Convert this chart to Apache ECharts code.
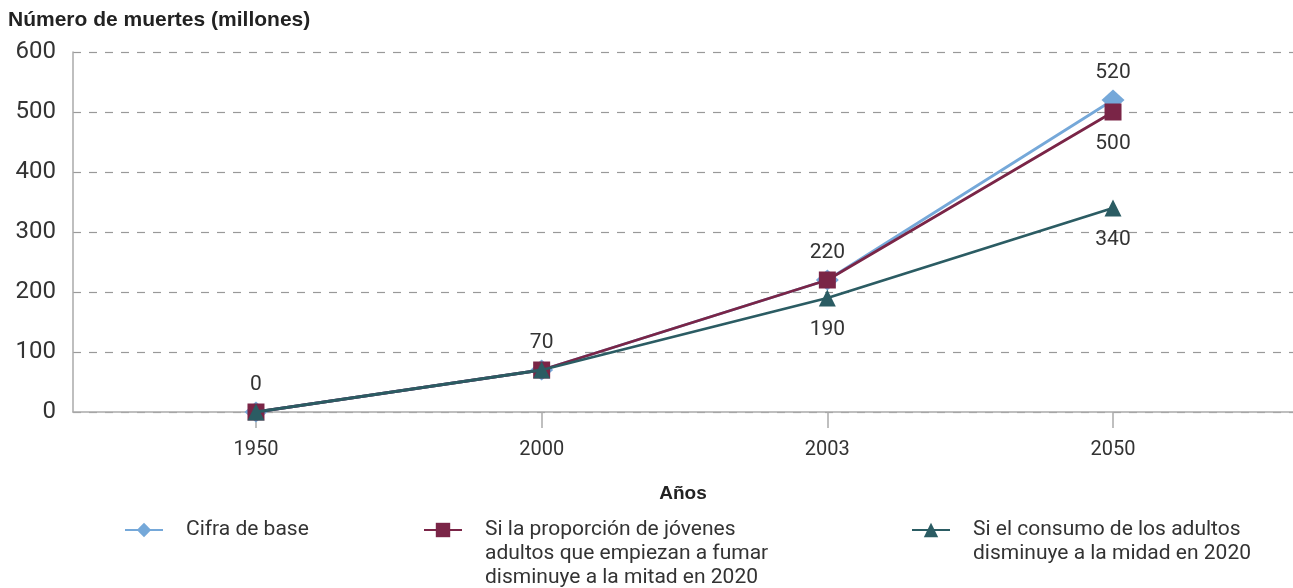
<!DOCTYPE html>
<html>
<head>
<meta charset="utf-8">
<script src="https://cdn.jsdelivr.net/npm/echarts@6/dist/echarts.min.js"></script>
<style>
  html, body { margin: 0; padding: 0; background: #fff; }
  #chart { width: 1293px; height: 588px; }
</style>
</head>
<body>
<div id="chart"></div>
<script>
var years = ['1950', '2000', '2003', '2050'];
var baseValues = [0, 70, 220, 520];
var youthValues = [0, 70, 220, 500];
var adultValues = [0, 70, 190, 340];

var nameBase = 'Cifra de base';
var nameYouth = 'Si la proporción de jóvenes\nadultos que empiezan a fumar\ndisminuye a la mitad en 2020';
var nameAdult = 'Si el consumo de los adultos\ndisminuye a la midad en 2020';

var FONT = 'Roboto, "Liberation Sans", sans-serif';
var BOLD = '"Liberation Sans", Arial, sans-serif';
var TXT = '#333';

function pairs(values) {
  return values.map(function (v, i) { return [i, v]; });
}

// labels: base on top everywhere, others below only where they split off
function youthData() {
  return youthValues.map(function (v, i) {
    return { value: [i, v], label: { show: v !== baseValues[i] } };
  });
}
function adultData() {
  return adultValues.map(function (v, i) {
    return { value: [i, v], label: { show: v !== youthValues[i] } };
  });
}

var labelBelow = {
  position: 'bottom', distance: 13, fontSize: 21, color: TXT, fontFamily: FONT
};

// legend text is centred on the icon, so pad with empty lines on top
// to bring the first line level with the marker
function legendFor(name, left) {
  var lh = 24, ih = 18;
  var lines = name.split('\n').length;
  var pad = new Array(lines).join('\n');
  var boxTop = ih / 2 - ((2 * lines - 1) * lh) / 2;
  return {
    left: left,
    top: 527 - ih / 2 + Math.min(0, boxTop) + 3,
    padding: 0,
    data: [name],
    itemWidth: 38,
    itemHeight: ih,
    selectedMode: false,
    formatter: function (n) { return pad + n; },
    textStyle: {
      fontSize: 21, lineHeight: lh, color: TXT, fontFamily: FONT,
      padding: [0, 0, 0, 18]
    }
  };
}

var chart = echarts.init(document.getElementById('chart'));
chart.setOption({
  animation: false,
  title: {
    text: 'Número de muertes (millones)',
    left: 3, top: 5,
    textStyle: { fontSize: 21, fontWeight: 'bold', color: '#222', fontFamily: BOLD }
  },
  legend: [
    legendFor(nameBase, 124),
    legendFor(nameYouth, 423),
    legendFor(nameAdult, 911)
  ],
  grid: { left: 73, right: 0, top: 52, bottom: 176 },
  xAxis: {
    type: 'value',
    min: -0.6405,
    max: 3.63,
    name: 'Años',
    nameLocation: 'middle',
    nameGap: 72,
    nameTextStyle: { fontSize: 19, fontWeight: 'bold', color: '#222', fontFamily: BOLD },
    splitLine: { show: false },
    axisLine: { lineStyle: { color: '#aaa', width: 1.5 } },
    axisTick: {
      show: true, length: 16, customValues: [0, 1, 2, 3],
      lineStyle: { color: '#aaa', width: 1.5 }
    },
    axisLabel: {
      customValues: [0, 1, 2, 3],
      margin: 28, fontSize: 20, color: TXT, fontFamily: FONT,
      formatter: function (v) { return years[Math.round(v)]; }
    }
  },
  yAxis: {
    type: 'value',
    min: 0, max: 600, interval: 100,
    axisLine: { show: true, onZero: false, lineStyle: { color: '#aaa', width: 1.5 } },
    axisTick: { show: false },
    axisLabel: { margin: 17, fontSize: 24, color: TXT, fontFamily: FONT },
    splitLine: { lineStyle: { color: '#999', type: [8, 8], width: 1.2 } }
  },
  series: [
    {
      name: nameBase, type: 'line', data: pairs(baseValues),
      symbol: 'diamond', symbolSize: [23, 21],
      itemStyle: { color: '#75a8d9' },
      lineStyle: { color: '#75a8d9', width: 2.8 },
      label: { show: true, position: 'top', distance: 6, fontSize: 21, color: TXT, fontFamily: FONT },
      z: 2
    },
    {
      name: nameYouth, type: 'line', data: youthData(),
      symbol: 'rect', symbolSize: 17,
      itemStyle: { color: '#7a2547' },
      lineStyle: { color: '#7a2547', width: 2.8 },
      label: labelBelow,
      z: 3
    },
    {
      name: nameAdult, type: 'line', data: adultData(),
      symbol: 'triangle', symbolSize: 17,
      itemStyle: { color: '#2b5c63' },
      lineStyle: { color: '#2b5c63', width: 2.8 },
      label: labelBelow,
      z: 4
    }
  ]
});
</script>
</body>
</html>
